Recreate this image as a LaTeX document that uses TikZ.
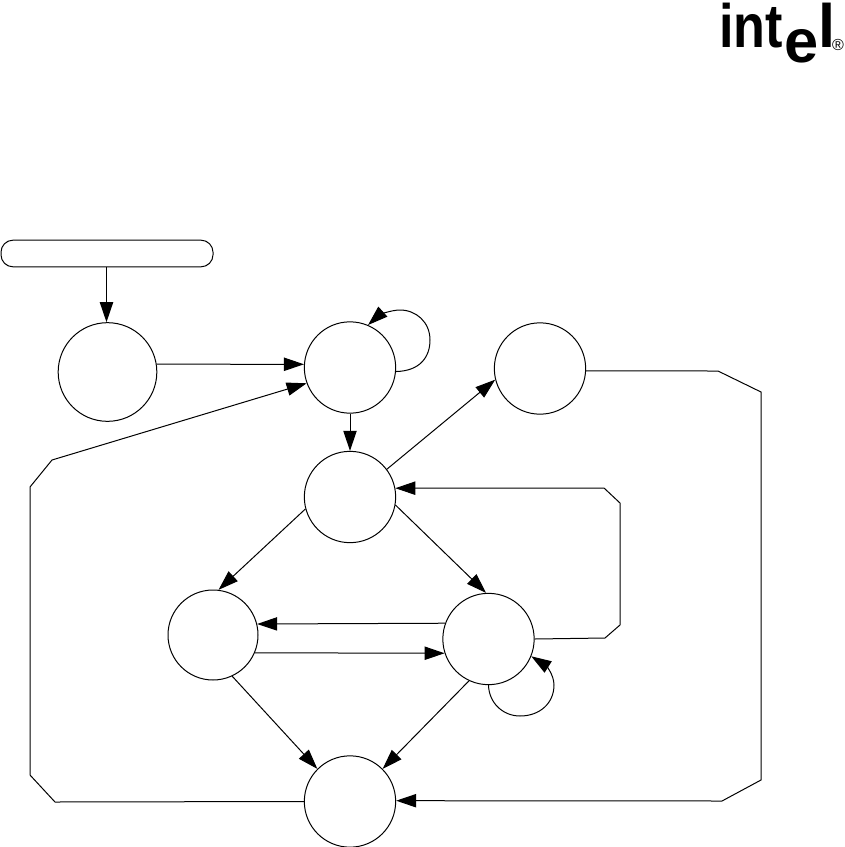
\documentclass[tikz,border=0pt]{standalone}
\usepackage{fontspec}
\setmainfont{Liberation Sans}
\usetikzlibrary{arrows.meta}
\tikzset{
  st/.style={draw=black,circle,inner sep=0pt,line width=0.75pt},
  conn/.style={draw=black,line width=0.75pt,-{Triangle[length=15pt,width=10pt]},line join=miter},
  logo/.style={inner sep=0pt,anchor=base west,font=\fontsize{46}{46}\selectfont\bfseries}
}
\begin{document}
\begin{tikzpicture}[x=0.75pt,y=-0.75pt]
\useasboundingbox (0,0) rectangle (844,847);
\node[logo] (li) at (719,47) {\scalebox{0.85}[1]{int}};
\node[logo] (le) at (784,62) {e};
\node[logo] (ll) at (818,47) {l};
\node[inner sep=0pt,font=\fontsize{12}{12}\selectfont] (lr) at (838,45) {®};

\node[draw=black,line width=0.75pt,rounded corners=9pt,minimum width=159pt,minimum height=20pt,inner sep=0pt] (box) at (107,253.5) {};
\node[st,minimum size=74pt] (A) at (107.5,372) {};
\node[st,minimum size=68.5pt] (B) at (350,367.5) {};
\node[st,minimum size=68.5pt] (C) at (540,368.5) {};
\node[st,minimum size=68.5pt] (D) at (350,497) {};
\node[st,minimum size=67.5pt] (E) at (213,635) {};
\node[st,minimum size=68.5pt] (F) at (488.5,639) {};
\node[st,minimum size=68.5pt] (G) at (350,801.5) {};

\coordinate (g1) at (55,802);
\coordinate (g2) at (30,775);
\coordinate (g3) at (30,487);
\coordinate (g4) at (52,460);
\coordinate (c1) at (718,371);
\coordinate (c2) at (761,392);
\coordinate (c3) at (761,780);
\coordinate (c4) at (722,801);
\coordinate (f1) at (605,638);
\coordinate (f2) at (620,625);
\coordinate (f3) at (620,503);
\coordinate (f4) at (604,488);

\draw[conn] (box.south -| A.north) ++(-1,0) coordinate (bs) -- (bs |- A.north);
\draw[conn] (A.9) -- (B.176);
\draw[conn] (G.west) -- (g1) -- (g2) -- (g3) -- (g4) -- (B.200);
\draw[conn] (B.-5) .. controls (420,371) and (430,357) .. (430,340) .. controls (430,322) and (416,310) .. (400,310) .. controls (390,310) and (378,316) .. (B.67);
\draw[conn] (B.south) -- (D.north);
\draw[conn] (D.37.6) -- (C.194.6);
\draw[conn] (C.-3) -- (c1) -- (c2) -- (c3) -- (c4) -- (G.1);
\draw[conn] (D.195) -- (E.83);
\draw[conn] (D.-10) -- (F.93);
\draw[conn] (F.0) -- (f1) -- (f2) -- (f3) -- (f4) -- (D.11);
\draw[conn] (F.160) -- (E.14.6);
\draw[conn] (E.-23) -- (F.198);
\draw[conn] (E.-65.6) -- (G.135);
\draw[conn] (F.245) -- (G.45);
\draw[conn] (F.-90) .. controls (489,703) and (503,716) .. (520,716) .. controls (540,716) and (554,703) .. (554,685) .. controls (554,674) and (545,665) .. (F.-22);
\end{tikzpicture}
\end{document}
